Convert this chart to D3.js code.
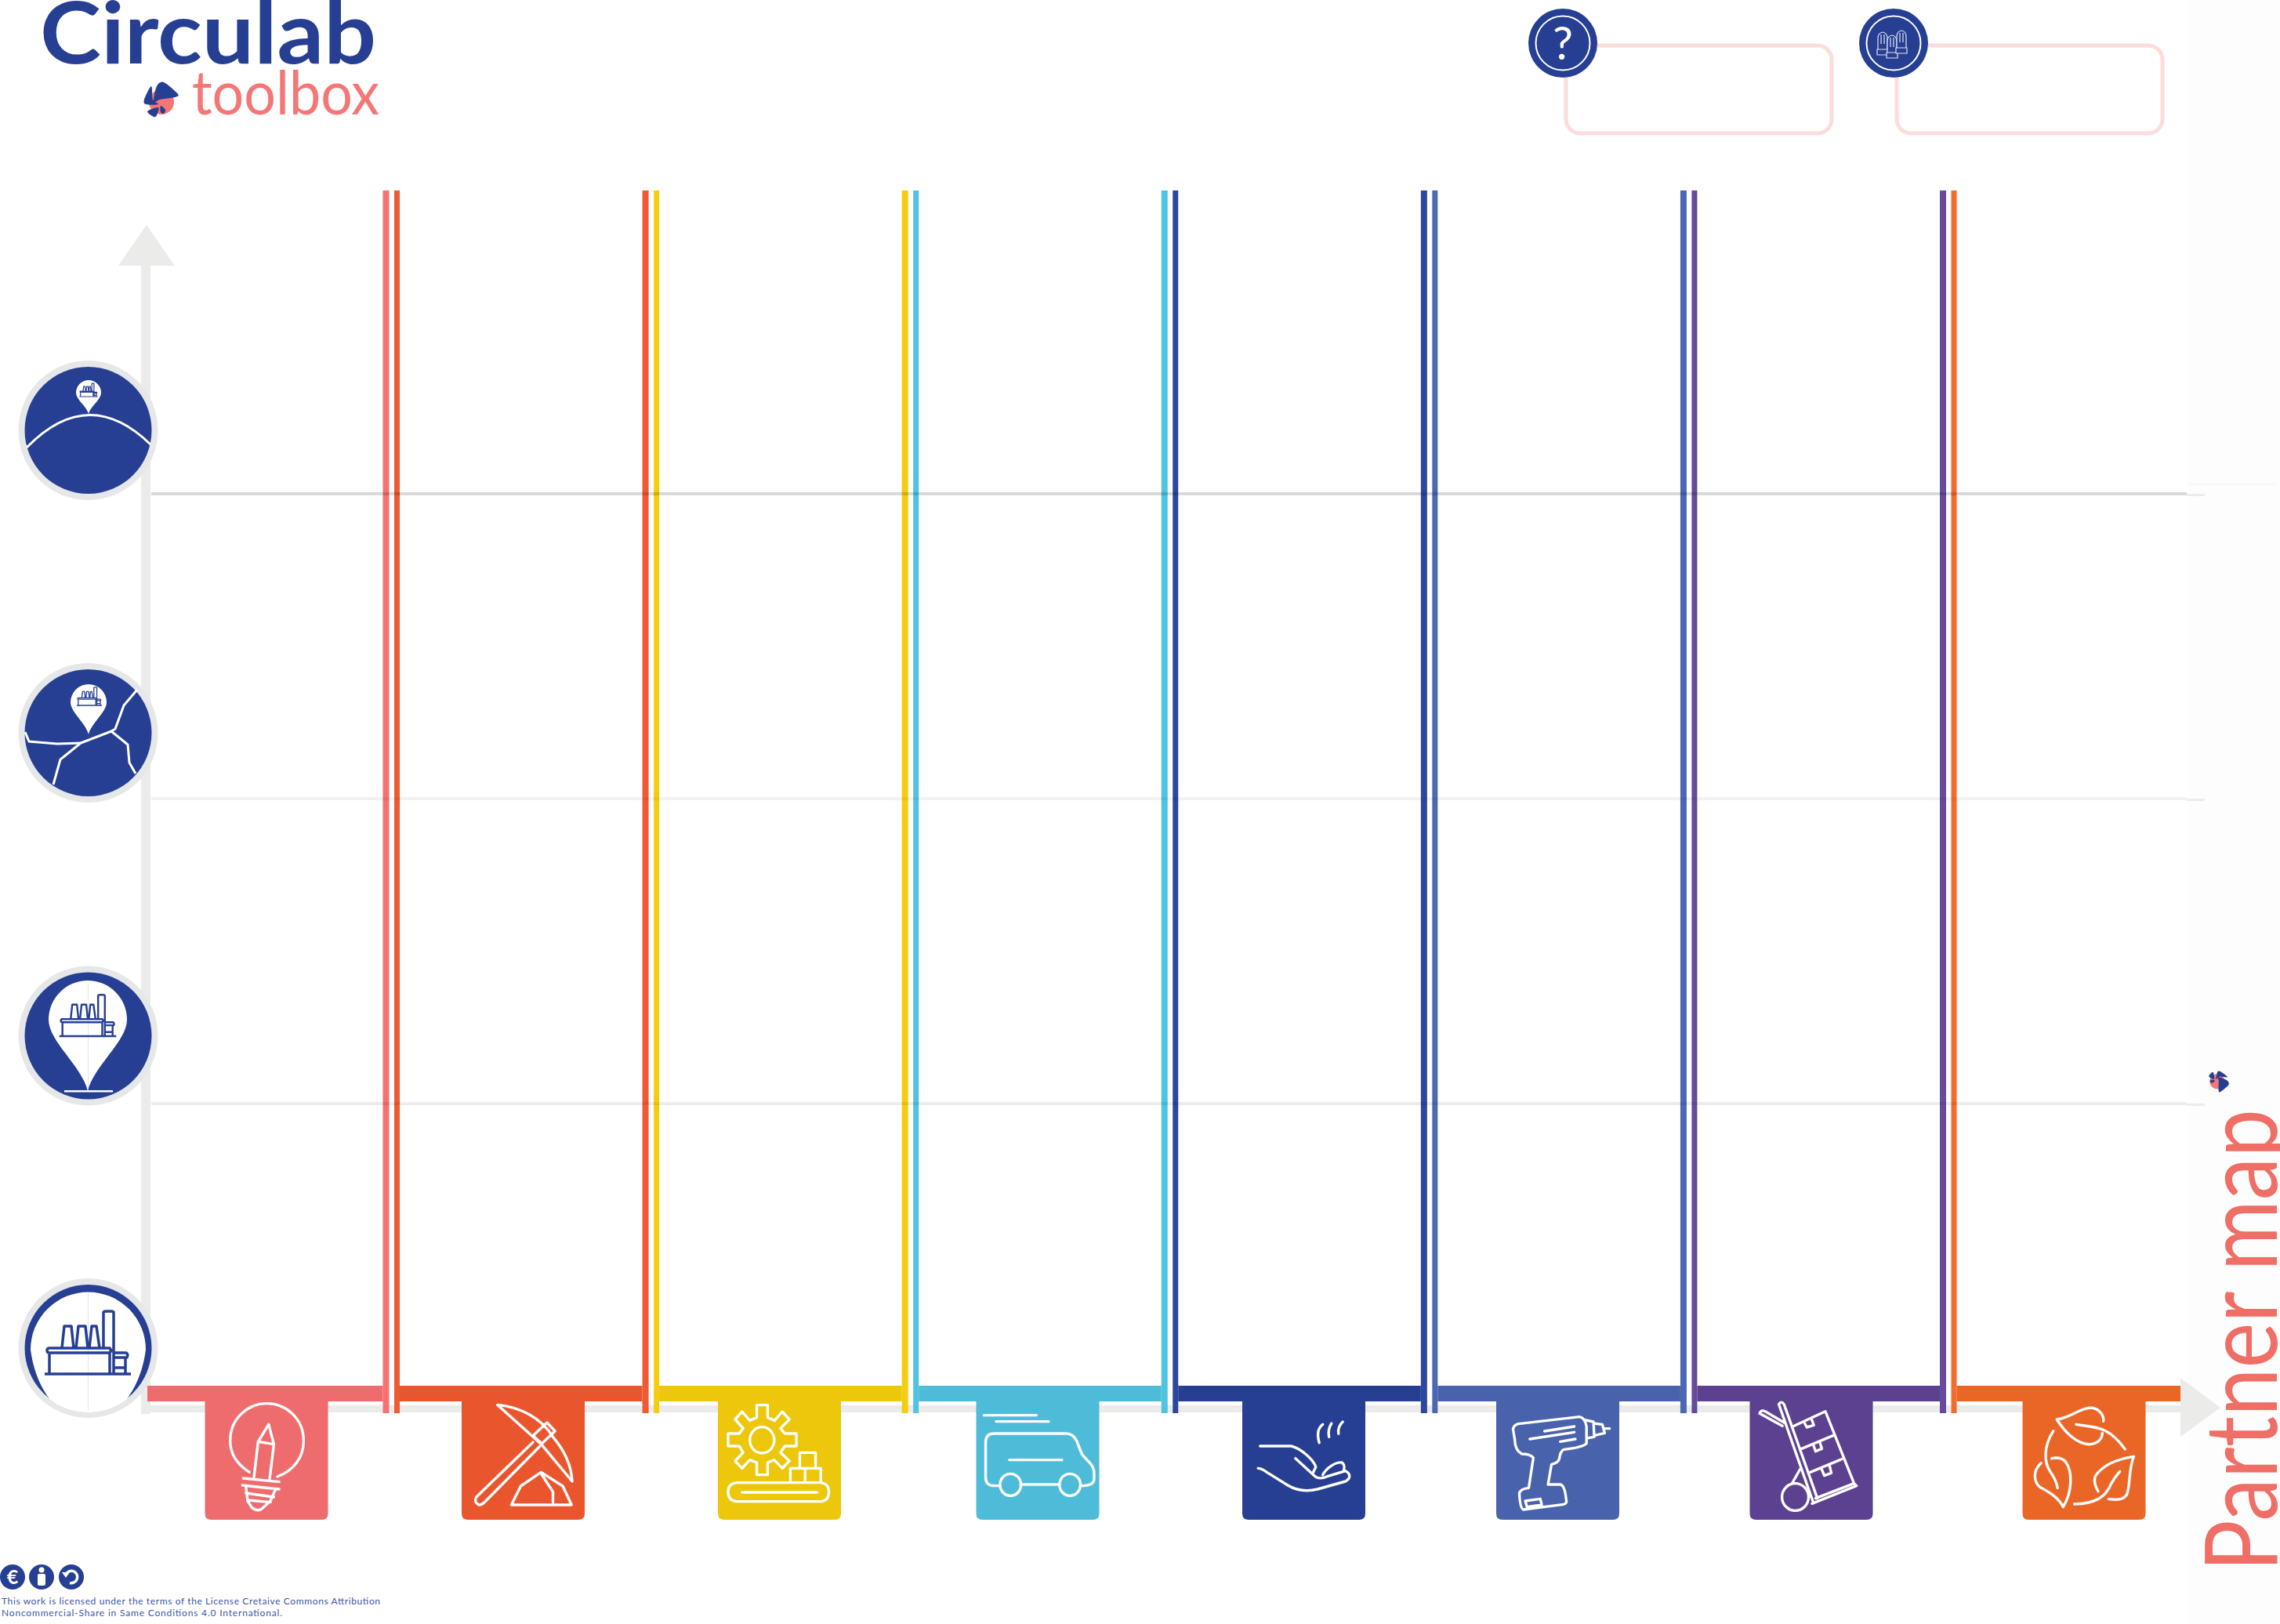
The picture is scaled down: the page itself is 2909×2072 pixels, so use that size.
<!DOCTYPE html>
<html>
<head>
<meta charset="utf-8">
<title>Partner map</title>
<script src="https://cdn.jsdelivr.net/npm/d3@7"></script>
<style>
  html, body { margin: 0; padding: 0; background: #fff; }
  svg { display: block; }
</style>
</head>
<body>
<script>
// Value chain stages along the bottom, territory levels up the side
const stages = ["Design", "Extraction", "Manufacturing", "Distribution", "Use", "Repair", "Collection", "Recycling"];
const levels = ["Global", "Regional", "Local", "Site"];
const stageColors = ["#ee6c6d", "#e9562e", "#ecc70b", "#4ebcd9", "#263f92", "#4862ac", "#5b418f", "#ea6626"];
const dividerColors = ["#f57271", "#ee5a33", "#f5cd0e", "#4ec4e0", "#2c479c", "#4b67b3", "#664aa0", "#f26c2b"];
const dividers = [1, 2, 3, 4, 5, 6, 7];
const gridLevels = [1, 2, 3];
const gridOpacity = [0.15, 0.05, 0.07];
const licenceLines = [
    "This work is licensed under the terms of the License Cretaive Commons Attribution",
    "Noncommercial-Share in Same Conditions 4.0 International."
];

const width = 2909;
const height = 2072;
const navy = "#263f92";
const axisGrey = "#ebebea";
const bandTop = 1768;
const bandBottom = 1788;
const lineTop = 243;
const lineBottom = 1803;
const tabWidth = 157;
const tabBottom = 1939;

const svg = d3.select("body")
    .append("svg")
    .attr("width", width)
    .attr("height", height)
    .attr("viewBox", `0 0 ${width} ${height}`);

svg.append("rect").attr("width", width).attr("height", height).attr("fill", "#fff");
svg.append("rect").attr("x", 2792).attr("width", 117).attr("height", height).attr("fill", "#fdfdfd");

// Scales
const xDivider = d3.scaleLinear().domain([1, 7]).range([499.5, 2486]);
const xTab = d3.scaleOrdinal().domain(stages).range([340, 667.5, 994.5, 1324, 1663.5, 1987.5, 2311, 2659]);
const yGrid = d3.scaleLinear().domain([1, 3]).range([630, 1408]);
const yLevel = d3.scaleOrdinal().domain(levels).range([549, 935, 1321.5, 1720]);

// Grey axes with their arrow heads
svg.append("rect").attr("x", 180).attr("y", 338).attr("width", 12).attr("height", 1466).attr("fill", axisGrey);
svg.append("rect").attr("x", 180).attr("y", 1793).attr("width", 2602).attr("height", 9).attr("fill", axisGrey);
svg.append("path").attr("d", "M187 287 L223 339 L151 339 Z").attr("fill", axisGrey);
svg.append("path").attr("d", "M2782 1758 L2833 1796 L2782 1833 Z").attr("fill", axisGrey);

// Double vertical lines between the stages
const dividerGroup = svg.append("g");
dividerGroup.selectAll(".left")
    .data(dividers)
    .enter()
    .append("rect")
    .attr("x", d => xDivider(d) - 11)
    .attr("y", lineTop)
    .attr("width", 8)
    .attr("height", lineBottom - lineTop)
    .attr("fill", d => dividerColors[d - 1]);
dividerGroup.selectAll(".right")
    .data(dividers)
    .enter()
    .append("rect")
    .attr("x", d => xDivider(d) + 3.5)
    .attr("y", lineTop)
    .attr("width", 7)
    .attr("height", lineBottom - lineTop)
    .attr("fill", d => dividerColors[d]);

// Horizontal level lines
svg.selectAll(".grid")
    .data(gridLevels)
    .enter()
    .append("rect")
    .attr("x", 193)
    .attr("y", d => yGrid(d) - 2)
    .attr("width", 2597)
    .attr("height", 4)
    .attr("fill", "#000")
    .attr("opacity", (d, i) => gridOpacity[i]);
svg.selectAll(".gridEnd")
    .data(gridLevels)
    .enter()
    .append("rect")
    .attr("x", 2790)
    .attr("y", d => yGrid(d))
    .attr("width", 23)
    .attr("height", 3)
    .attr("fill", "#ececec");
svg.append("rect").attr("x", 2792).attr("y", 617).attr("width", 111).attr("height", 2).attr("fill", "#f6f6f6");

// Coloured band segments and tabs
const segLeft = i => (i === 0 ? 188 : xDivider(i) + 10.5);
const segRight = i => (i === 7 ? 2782 : xDivider(i + 1) - 11);
svg.selectAll(".band")
    .data(stages)
    .enter()
    .append("rect")
    .attr("x", (d, i) => segLeft(i))
    .attr("y", bandTop)
    .attr("width", (d, i) => segRight(i) - segLeft(i))
    .attr("height", bandBottom - bandTop)
    .attr("fill", (d, i) => stageColors[i]);

const tabPath = d => {
    const l = xTab(d) - tabWidth / 2, r = xTab(d) + tabWidth / 2, c = 8;
    return `M${l} ${bandBottom - 1} L${r} ${bandBottom - 1} L${r} ${tabBottom - c} Q${r} ${tabBottom} ${r - c} ${tabBottom} `
        + `L${l + c} ${tabBottom} Q${l} ${tabBottom} ${l} ${tabBottom - c} Z`;
};
svg.selectAll(".tab")
    .data(stages)
    .enter()
    .append("path")
    .attr("d", tabPath)
    .attr("fill", (d, i) => stageColors[i]);

// Tab icons, outlined in white. zx is where the tab's left edge falls in the icon's own coordinates
const tabIcons = [
    { zx: 228, d: "M355 415 C320 385 300 345 300 295 C300 210 350 152 405 152 C460 152 510 210 510 295 C510 360 480 410 435 432 M380 298 L410 232 L425 308 Z M380 298 L368 435 M425 308 L413 440 M337 438 L440 452 M335 465 L440 480 M345 495 L425 510 M352 522 L415 530 M345 470 L350 525 L362 550 Q380 570 395 550 L415 525 L430 480" },
    { zx: 961, d: "M1063 157 C1130 165 1190 210 1222 280 C1260 340 1275 400 1277 450 L1190 310 Z M1165 275 L1205 225 L1228 258 L1190 305 Z M1165 300 L1003 510 Q995 530 1010 540 Q1020 540 1030 525 L1185 315 M1103 540 L1130 468 L1188 415 L1250 468 L1275 540 Z M1188 420 L1222 490 L1222 530" },
    { zx: 126, d: "M237 158 L268 158 L268 205 L288 217 L310 183 L330 213 L305 247 L317 267 L350 267 L350 315 L317 315 L305 340 L330 372 L310 400 L287 368 L268 378 L268 425 L237 425 L237 378 L217 368 L195 400 L175 372 L198 340 L187 315 L155 315 L155 267 L187 267 L198 247 L175 213 L195 183 L217 217 L237 205 Z M217 292 A35 50 0 1 1 287 292 A35 50 0 1 1 217 292 Z M360 400 L360 340 L405 340 L405 400 M333 455 L333 400 L420 400 L420 455 M375 400 L375 455 M180 455 L420 455 Q443 458 443 490 Q443 525 420 527 L180 527 Q155 525 155 490 Q155 458 180 455 Z M195 492 L410 492" },
    { zx: 863, d: "M885 197 L1035 197 M920 221 L1070 221 M932 467 L915 467 Q890 467 890 435 L890 300 Q890 267 915 267 L1120 267 Q1140 267 1150 295 L1165 345 Q1170 355 1185 375 Q1200 395 1200 420 L1200 440 Q1200 467 1162 467 M990 462 L1102 462 M931 463 A30 42 0 1 1 991 463 A30 42 0 1 1 931 463 Z M1101 463 A30 42 0 1 1 1161 463 A30 42 0 1 1 1101 463 Z M958 368 L1108 368" },
    { zx: 55, d: "M275 302 C268 270 272 245 285 232 M303 280 C300 262 302 245 310 228 M330 268 C328 250 332 235 342 222 M106 315 L195 315 C225 325 260 370 265 395 L258 415 M207 362 L262 430 C270 440 285 440 300 430 L350 410 C365 420 365 440 350 450 L270 480 C240 490 210 485 185 465 L125 415 Q110 400 100 400 M285 425 C295 400 320 375 340 378 C350 390 345 405 345 405" },
    { zx: 782, d: "M845 230 L1020 203 Q1035 205 1040 240 L1040 305 Q1030 320 975 328 Q965 335 962 365 Q958 380 940 385 L930 462 L965 462 Q978 465 982 520 Q985 535 975 538 L860 558 Q850 555 848 495 Q852 478 875 475 L888 360 Q880 345 855 345 Q835 330 835 290 L830 250 Q832 235 845 230 Z M1035 215 L1060 222 L1062 280 L1040 285 M1060 228 L1085 232 L1092 265 L1062 275 M1090 248 L1106 248 M920 258 L1005 240 M878 288 L1005 262 M965 298 L1008 288 M865 525 L908 517 L912 540 L870 548 Z" },
    { zx: 52, d: "M135 155 Q142 140 150 155 L245 515 M135 155 L232 525 M80 190 Q85 172 100 185 L150 225 M80 190 L145 238 M175 240 L268 182 L350 458 L240 515 M200 325 L290 275 M225 415 L315 365 M208 225 L215 243 L235 235 L228 210 M235 315 L240 335 L258 325 L252 300 M258 405 L265 428 L285 418 L280 390 M230 535 L357 467 L350 458 M144 510 A38 52 0 1 1 220 510 A38 52 0 1 1 144 510 Z M172 460 L195 405" },
    { zx: 832, d: "M930 213 C975 205 990 170 1030 168 C1055 175 1065 200 1063 220 M930 213 C950 255 985 310 1025 308 C1050 305 1060 285 1060 265 M985 232 C1040 245 1075 235 1125 327 M920 257 C890 320 895 380 910 410 C920 430 930 450 932 475 M885 380 C860 410 865 450 880 470 C905 490 935 510 948 548 C975 490 975 410 955 375 C945 360 930 358 915 362 M1150 355 C1100 365 1060 390 1040 430 C1035 450 1040 470 1048 488 M1150 355 C1135 400 1140 470 1130 500 C1120 525 1095 520 1078 518 M980 537 C1040 535 1070 510 1085 460 C1095 435 1105 420 1110 412" }
];
svg.selectAll(".icon")
    .data(stages)
    .enter()
    .append("g")
    .attr("transform", (d, i) => `translate(${xTab(d) - tabWidth / 2},1740) scale(${1 / 2.24},${1 / 3}) translate(${-tabIcons[i].zx},0)`)
    .append("path")
    .attr("d", (d, i) => tabIcons[i].d)
    .attr("fill", "none")
    .attr("stroke", "#fff")
    .attr("stroke-width", 3.4)
    .attr("stroke-linecap", "round")
    .attr("stroke-linejoin", "round")
    .attr("vector-effect", "non-scaling-stroke");

// Territory level badges
const cxLevel = 112.5;
const pinPath = (cx, cy, r, tip) => {
    const k = tip - (tip - cy) * 0.35;
    return `M${cx} ${tip} C${cx - r * 0.15} ${k} ${cx - r} ${cy + r * 0.55} ${cx - r} ${cy} A${r} ${r} 0 1 1 ${cx + r} ${cy} `
        + `C${cx + r} ${cy + r * 0.55} ${cx + r * 0.15} ${k} ${cx} ${tip} Z`;
};
const factoryPath = "M-55 0 L55 0 M-49 0 L-49 -28 M28 0 L28 -28 M-52 -30 Q-52 -33 -49 -33 L28 -33 Q31 -30 28 -27 L-49 -27 Q-52 -27 -52 -30 Z "
    + "M-33 -33 L-30 -61 L-21 -61 L-18 -33 M-15 -33 L-12 -61 L-3 -61 L0 -33 M2 -33 L5 -61 L11 -61 L15 -33 "
    + "M20 -33 L20 -78 Q20 -80 23 -80 L30 -80 Q33 -80 33 -78 L33 0 M33 -27 L49 -27 Q52 -25 50 -21 L34 -21 M48 -21 L48 0 M34 -8 L48 -8";
const drawFactory = (x, y, k, stroke) => svg.append("path")
    .attr("transform", `translate(${x},${y}) scale(${k})`)
    .attr("d", factoryPath)
    .attr("fill", "none")
    .attr("stroke", navy)
    .attr("stroke-width", stroke)
    .attr("stroke-linejoin", "round")
    .attr("vector-effect", "non-scaling-stroke");

svg.selectAll(".ring")
    .data(levels)
    .enter()
    .append("circle")
    .attr("cx", cxLevel)
    .attr("cy", d => yLevel(d))
    .attr("r", 89)
    .attr("fill", "#e6e7e9");
svg.selectAll(".badge")
    .data(levels)
    .enter()
    .append("circle")
    .attr("cx", cxLevel)
    .attr("cy", d => yLevel(d))
    .attr("r", 81)
    .attr("fill", navy);

const whiteLine = d => svg.append("path")
    .attr("d", d)
    .attr("fill", "none")
    .attr("stroke", "#fff")
    .attr("stroke-width", 3)
    .attr("stroke-linejoin", "round");
const whiteFill = d => svg.append("path").attr("d", d).attr("fill", "#fff");

// Global: the curve of the earth
whiteLine("M34 571 Q113 490 192 567");
whiteFill(pinPath(113, 501, 16, 528));
drawFactory(113, 506, 0.21, 1.2);

// Regional: borders on a map
whiteLine("M68 1001 L77 969 L103 948 L142 933 L163 950 L165 973 L173 987");
whiteLine("M142 933 L147 930 L158 900 L175 880");
whiteLine("M32 934 L37 946 L73 949 L103 948");
whiteFill(pinPath(113, 896, 23, 937));
drawFactory(114, 900, 0.29, 1.3);

// Local: a big pin
whiteFill(pinPath(112, 1301, 50, 1392));
svg.append("rect").attr("x", 82).attr("y", 1391).attr("width", 62).attr("height", 2.5).attr("fill", "#fff");
svg.append("rect").attr("x", 112).attr("y", 1255).attr("width", 1).attr("height", 135).attr("fill", "#e3e6f2");
drawFactory(112, 1322, 0.66, 2.4);

// Site: the factory alone, the badge open at the bottom
whiteFill("M39 1722 A73 73 0 0 1 186 1722 Q181 1760 161 1786 L64 1786 Q44 1760 39 1722 Z");
whiteFill("M63 1785 A81 81 0 0 0 162 1785 Z");
svg.append("rect").attr("x", 112).attr("y", 1650).attr("width", 1).attr("height", 150).attr("fill", "#e3e6f2");
drawFactory(112, 1753, 1, 3.5);

// Swirl mark of the logo
const swirlBlades = [
    [[-10, 2], [-6, -18], [3, -23], [21, -8], [17, -4], [-2, -1]],
    [[-13, -18], [-22, -1], [-20, 5], [-4, 5], [-11, -1]],
    [[-18, 14], [-4, 9], [-6, 19], [-10, 21]],
    [[-1, 7], [5, 12], [3, 17], [-1, 15]]
];
const swirlLine = d3.line().curve(d3.curveCardinalClosed.tension(0.1));
const drawSwirl = (x, y, k, angle) => {
    const g = svg.append("g").attr("transform", `translate(${x},${y}) rotate(${angle}) scale(${k})`);
    g.append("circle").attr("cy", 2).attr("r", 16).attr("fill", "#f47676");
    g.selectAll("path")
        .data(swirlBlades)
        .enter()
        .append("path")
        .attr("d", swirlLine)
        .attr("fill", navy);
};
drawSwirl(206, 128, 1, 0);
drawSwirl(2830, 1380, 0.6, 100);

// Logo text
svg.append("text")
    .attr("x", 51)
    .attr("y", 81)
    .attr("textLength", 429)
    .attr("lengthAdjust", "spacingAndGlyphs")
    .attr("font-family", "Lato")
    .attr("font-weight", 700)
    .attr("font-size", 110)
    .attr("fill", navy)
    .text("Circulab");
svg.append("text")
    .attr("x", 245)
    .attr("y", 146)
    .attr("textLength", 239)
    .attr("lengthAdjust", "spacingAndGlyphs")
    .attr("font-family", "Lato")
    .attr("font-size", 77)
    .attr("fill", "#f47676")
    .text("toolbox");

// Two empty boxes at the top right, each with a round badge
const boxLefts = [1998, 2420];
const boxGlyphs = ["?", ""];
svg.selectAll(".box")
    .data(boxLefts)
    .enter()
    .append("rect")
    .attr("x", d => d)
    .attr("y", 58)
    .attr("width", 339)
    .attr("height", 112)
    .attr("rx", 18)
    .attr("fill", "#fff")
    .attr("stroke", "#fddcdb")
    .attr("stroke-width", 5);
const boxBadge = svg.selectAll(".boxBadge")
    .data(boxLefts)
    .enter()
    .append("g")
    .attr("transform", d => `translate(${d - 4},55)`);
boxBadge.append("circle").attr("r", 44).attr("fill", navy);
boxBadge.append("circle").attr("r", 34.5).attr("fill", "none").attr("stroke", "#fff").attr("stroke-width", 2);
boxBadge.append("text")
    .attr("y", 21)
    .attr("text-anchor", "middle")
    .attr("font-family", "Lato")
    .attr("font-size", 58)
    .attr("fill", "#fff")
    .text((d, i) => boxGlyphs[i]);

// Gloves in the second badge
const gloveOffsets = [[-14, 0], [-2, 4], [10, -2]];
svg.append("g")
    .attr("transform", `translate(${boxLefts[1] - 4},55)`)
    .selectAll("path")
    .data(gloveOffsets)
    .enter()
    .append("path")
    .attr("transform", d => `translate(${d[0]},${d[1]})`)
    .attr("d", "M-6 8 L-6 -6 Q-6 -13 0 -14 Q6 -13 6 -6 L6 8 M-7 8 L7 8 L7 15 L-7 15 Z M-2 -11 L-2 1 M2 -11 L2 1")
    .attr("fill", navy)
    .attr("stroke", "#dfe3f2")
    .attr("stroke-width", 1.2);

// Sheet title, running up the right edge
svg.append("text")
    .attr("transform", "translate(2905,2005) rotate(-90)")
    .attr("textLength", 590)
    .attr("lengthAdjust", "spacingAndGlyphs")
    .attr("font-family", "Lato")
    .attr("font-size", 128)
    .attr("fill", "#ef6e66")
    .text("Partner map");

// Licence badges and text
const ccX = [16, 53, 91];
svg.selectAll(".cc")
    .data(ccX)
    .enter()
    .append("circle")
    .attr("cx", d => d)
    .attr("cy", 2012)
    .attr("r", 16)
    .attr("fill", navy);
svg.append("text")
    .attr("x", ccX[0])
    .attr("y", 2021)
    .attr("text-anchor", "middle")
    .attr("font-family", "Lato")
    .attr("font-weight", 700)
    .attr("font-size", 25)
    .attr("fill", "#fff")
    .text("€");
svg.append("circle").attr("cx", ccX[1]).attr("cy", 2003).attr("r", 3.5).attr("fill", "#fff");
svg.append("rect").attr("x", ccX[1] - 5).attr("y", 2008).attr("width", 10).attr("height", 15).attr("rx", 2).attr("fill", "#fff");
svg.append("path")
    .attr("d", d3.arc().innerRadius(6).outerRadius(9.5).startAngle(-1.2).endAngle(3.4)())
    .attr("transform", `translate(${ccX[2]},2012)`)
    .attr("fill", "#fff");
svg.append("path")
    .attr("d", `M${ccX[2] - 12} 2006 L${ccX[2] - 2} 2006 L${ccX[2] - 7} 2013 Z`)
    .attr("fill", "#fff");

const licenceWidths = [483, 358];
svg.selectAll(".licence")
    .data(licenceLines)
    .enter()
    .append("text")
    .attr("x", 2)
    .attr("y", (d, i) => 2047 + i * 15)
    .attr("textLength", (d, i) => licenceWidths[i])
    .attr("font-family", "Lato")
    .attr("font-size", 12)
    .attr("fill", "#3d56a6")
    .text(d => d);
</script>
</body>
</html>
